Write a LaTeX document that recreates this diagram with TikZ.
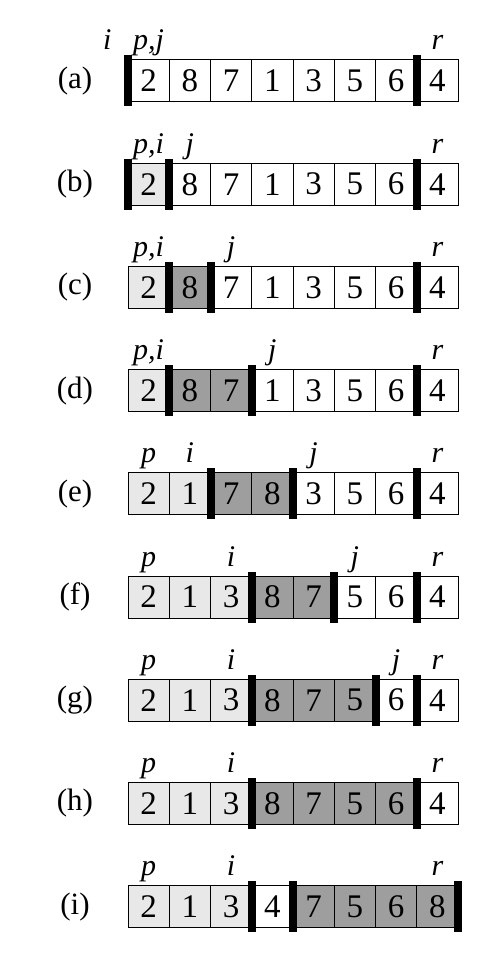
\documentclass[tikz,border=0pt]{standalone}
\usepackage{fontspec}
\setmainfont{Liberation Serif}

\definecolor{lowpart}{gray}{0.91}
\definecolor{highpart}{gray}{0.62}

\tikzset{
    cell/.style = {draw, line width = 0.5pt, minimum width = 20.625pt, minimum height = 21pt,
        inner sep = 0pt, font = \fontsize{16.5}{16.5}\selectfont},
    low/.style = {cell, fill = lowpart},
    high/.style = {cell, fill = highpart},
    free/.style = {cell, fill = white},
    wall/.style = {fill = black},
    idx/.style = {anchor = base, inner sep = 0pt, font = \fontsize{15}{15}\selectfont\itshape},
    tag/.style = {font = \fontsize{15.5}{15.5}\selectfont}
}

\newcommand{\partrow}[5]{%
    \pgfmathsetmacro{\rowy}{81 + 103.2*#2}
    \node[tag] (tag-#1) at (75, \rowy) {(#1)};
    \foreach \val/\kind [count = \n] in {#3}
        \node[\kind] (#1-\n) at ({107.375 + 41.25*\n}, \rowy) {\val};
    \foreach \w in {#4}
        \fill[wall] ({128 + 41.25*\w - 4}, {\rowy - 25.5}) rectangle ({128 + 41.25*\w + 4}, {\rowy + 25.5});
    \foreach \k/\txt in {#5}
        \node[idx] (#1-idx-\k) at ({107.375 + 41.25*\k}, {\rowy - 31}) {\txt};
}

\begin{document}
\begin{tikzpicture}[x = 0.5pt, y = -0.5pt]
    \useasboundingbox (0, 0) rectangle (494, 963);
    \partrow{a}{0}{2/free, 8/free, 7/free, 1/free, 3/free, 5/free, 6/free, 4/free}{0, 7}{0/i, 1/{p,j}, 8/r}
    \partrow{b}{1}{2/low, 8/free, 7/free, 1/free, 3/free, 5/free, 6/free, 4/free}{0, 1, 7}{1/{p,i}, 2/j, 8/r}
    \partrow{c}{2}{2/low, 8/high, 7/free, 1/free, 3/free, 5/free, 6/free, 4/free}{1, 2, 7}{1/{p,i}, 3/j, 8/r}
    \partrow{d}{3}{2/low, 8/high, 7/high, 1/free, 3/free, 5/free, 6/free, 4/free}{1, 3, 7}{1/{p,i}, 4/j, 8/r}
    \partrow{e}{4}{2/low, 1/low, 7/high, 8/high, 3/free, 5/free, 6/free, 4/free}{2, 4, 7}{1/p, 2/i, 5/j, 8/r}
    \partrow{f}{5}{2/low, 1/low, 3/low, 8/high, 7/high, 5/free, 6/free, 4/free}{3, 5, 7}{1/p, 3/i, 6/j, 8/r}
    \partrow{g}{6}{2/low, 1/low, 3/low, 8/high, 7/high, 5/high, 6/free, 4/free}{3, 6, 7}{1/p, 3/i, 7/j, 8/r}
    \partrow{h}{7}{2/low, 1/low, 3/low, 8/high, 7/high, 5/high, 6/high, 4/free}{3, 7}{1/p, 3/i, 8/r}
    \partrow{i}{8}{2/low, 1/low, 3/low, 4/free, 7/high, 5/high, 6/high, 8/high}{3, 4, 8}{1/p, 3/i, 8/r}
\end{tikzpicture}
\end{document}
